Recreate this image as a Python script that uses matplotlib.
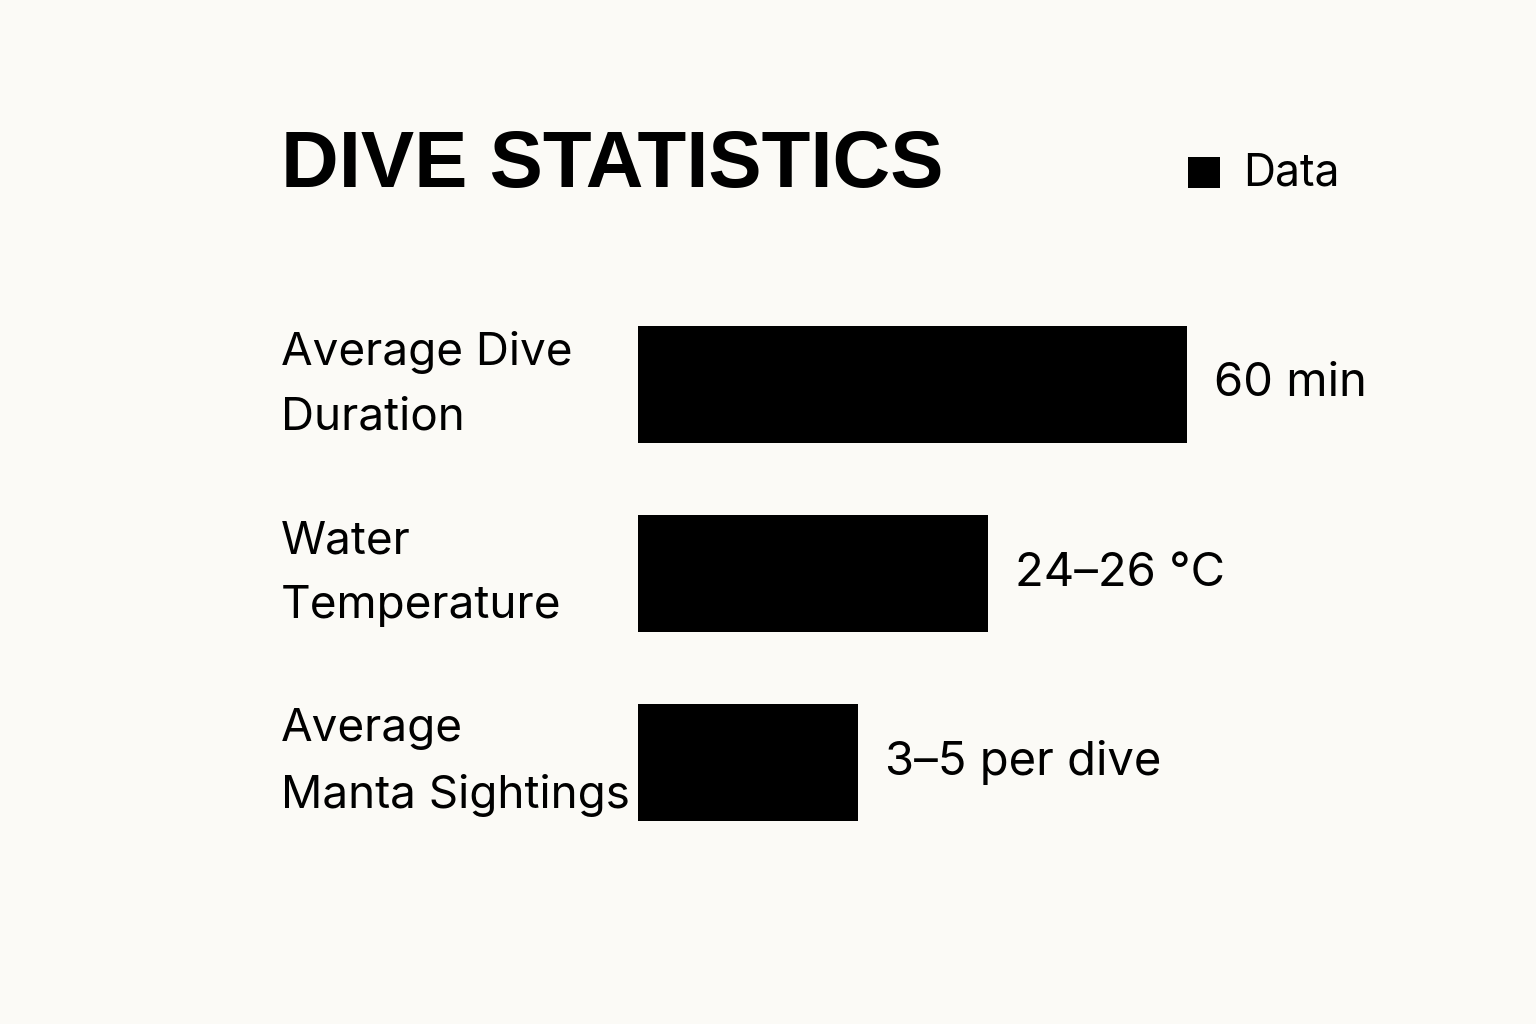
import matplotlib
matplotlib.use("Agg")
import matplotlib.pyplot as plt
from matplotlib.patches import Rectangle

categories = ["Average Dive\nDuration", "Water\nTemperature", "Average\nManta Sightings"]
values = [60, 38.3, 24]
value_labels = ["60 min", "24–26 °C", "3–5 per dive"]
title = "DIVE STATISTICS"
legend_label = "Data"

W, H = 1536, 1024
bg = "#fbfaf6"
fig = plt.figure(figsize=(W / 100, H / 100), dpi=100, facecolor=bg)

# axes: left 638px, xlim 0..80 => 60 spans 549px
ax_left, ax_w = 638, 549 * 80 / 60
ax_top, ax_bot = 290, 857
ax = fig.add_axes([ax_left / W, 1 - ax_bot / H, ax_w / W, (ax_bot - ax_top) / H])
ax.set_facecolor(bg)
ypos = list(range(len(categories)))
ax.barh(ypos, values, height=0.62, color="black")
ax.set_xlim(0, 80)
ax.set_ylim(len(categories) - 0.5, -0.5)
ax.axis("off")

lab_font = ["Inter", "DejaVu Sans"]
for y, v, lab, cat in zip(ypos, values, value_labels, categories):
    ax.annotate(lab, xy=(v, y), xytext=(27, 0), textcoords="offset pixels",
                ha="left", va="center", fontsize=34, family=lab_font, color="black")
    ax.annotate(cat, xy=(281, y), xycoords=("figure pixels", "data"),
                ha="left", va="center", fontsize=33, family=lab_font, color="black",
                linespacing=1.68, annotation_clip=False)

fig.text(281 / W, 1 - 167 / H, title, ha="left", va="center", fontsize=57.5,
         fontweight="bold", family=["Liberation Sans", "DejaVu Sans"], color="black")

fig.patches.append(Rectangle((1188 / W, 1 - 188 / H), 32 / W, 31 / H, transform=fig.transFigure,
                             facecolor="black", edgecolor="none"))
fig.text(1243 / W, 1 - 174 / H, legend_label, ha="left", va="center", fontsize=32,
         family=lab_font, color="black")

fig.savefig("out.png", dpi=100, facecolor=bg)
